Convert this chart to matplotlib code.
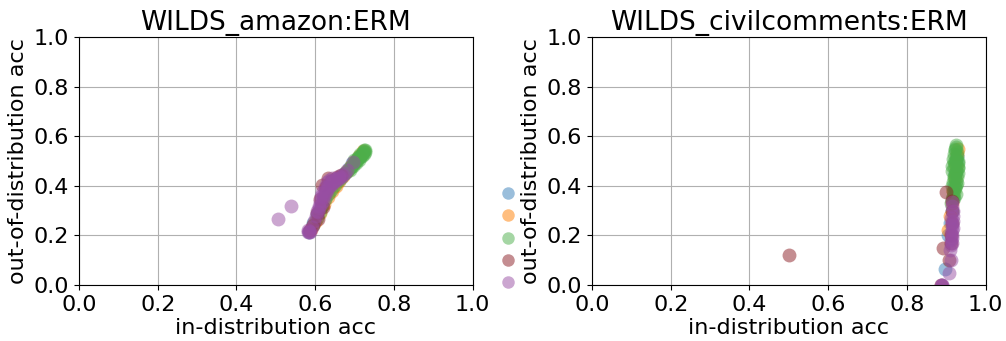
import matplotlib
matplotlib.use("Agg")
import matplotlib.pyplot as plt
from matplotlib.lines import Line2D

# ---------------- data ----------------
titles = ["WILDS_amazon:ERM", "WILDS_civilcomments:ERM"]
xlabel = "in-distribution acc"
ylabel = "out-of-distribution acc"
ticks = [0.0, 0.2, 0.4, 0.6, 0.8, 1.0]

series_colors = ["#377eb8", "#ff7f00", "#4daf4a", "#8b1c24", "#984ea3"]

# amazon (left)
amz_blue_x = [0.585, 0.595, 0.605, 0.615, 0.625, 0.635, 0.645, 0.655, 0.665, 0.675, 0.685, 0.695, 0.705, 0.715]
amz_blue_y = [0.215, 0.250, 0.285, 0.315, 0.345, 0.370, 0.395, 0.415, 0.430, 0.450, 0.470, 0.490, 0.505, 0.520]
amz_orange_x = [0.590, 0.600, 0.612, 0.622, 0.632, 0.642, 0.652, 0.662, 0.672, 0.682, 0.692, 0.702, 0.712, 0.722]
amz_orange_y = [0.225, 0.255, 0.290, 0.325, 0.355, 0.380, 0.400, 0.420, 0.440, 0.460, 0.480, 0.500, 0.520, 0.540]
amz_green_x = [0.595, 0.605, 0.612, 0.618, 0.625, 0.632, 0.640, 0.650, 0.660, 0.668, 0.675, 0.680, 0.685, 0.690,
               0.694, 0.698, 0.702, 0.706, 0.710, 0.713, 0.716, 0.719, 0.722, 0.724, 0.726, 0.727, 0.725, 0.720,
               0.712, 0.704, 0.696, 0.688, 0.700, 0.708, 0.715, 0.723]
amz_green_y = [0.240, 0.270, 0.295, 0.320, 0.345, 0.365, 0.385, 0.405, 0.425, 0.440, 0.450, 0.460, 0.468, 0.476,
               0.484, 0.490, 0.497, 0.505, 0.512, 0.518, 0.524, 0.530, 0.535, 0.540, 0.545, 0.538, 0.530, 0.522,
               0.506, 0.492, 0.478, 0.465, 0.505, 0.515, 0.528, 0.545]
amz_red_x = [0.587, 0.595, 0.604, 0.620, 0.617, 0.633, 0.667, 0.612, 0.640, 0.655, 0.628, 0.608]
amz_red_y = [0.220, 0.242, 0.290, 0.316, 0.403, 0.430, 0.443, 0.345, 0.420, 0.435, 0.395, 0.265]
amz_purple_x = [0.505, 0.538, 0.583, 0.584, 0.585, 0.586, 0.583, 0.592, 0.598, 0.603, 0.607, 0.611, 0.615, 0.619,
                0.623, 0.627, 0.631, 0.635, 0.640, 0.645, 0.650, 0.655, 0.660, 0.665, 0.670, 0.675, 0.680, 0.697,
                0.612, 0.620, 0.626, 0.632, 0.638, 0.644, 0.650, 0.656, 0.662, 0.618, 0.624, 0.630, 0.636, 0.642,
                0.605, 0.610, 0.615]
amz_purple_y = [0.266, 0.320, 0.215, 0.212, 0.218, 0.215, 0.220, 0.235, 0.260, 0.280, 0.295, 0.310, 0.325, 0.340,
                0.355, 0.370, 0.385, 0.395, 0.405, 0.412, 0.418, 0.424, 0.430, 0.437, 0.443, 0.450, 0.464, 0.497,
                0.340, 0.360, 0.380, 0.400, 0.410, 0.420, 0.428, 0.432, 0.438, 0.375, 0.395, 0.415, 0.425, 0.430,
                0.300, 0.320, 0.360]

# civilcomments (right)
civ_blue_x = [0.898, 0.905, 0.910, 0.915, 0.918, 0.920, 0.922, 0.925, 0.928]
civ_blue_y = [0.063, 0.200, 0.250, 0.300, 0.350, 0.400, 0.450, 0.500, 0.520]
civ_orange_x = [0.905, 0.910, 0.915, 0.918, 0.922, 0.925, 0.928, 0.930]
civ_orange_y = [0.220, 0.280, 0.330, 0.380, 0.430, 0.480, 0.530, 0.550]
civ_green_x = [0.912, 0.915, 0.918, 0.920, 0.922, 0.924, 0.926, 0.928, 0.930, 0.914, 0.917, 0.920, 0.923, 0.926,
               0.929, 0.931, 0.916, 0.919, 0.922, 0.925, 0.928, 0.921, 0.923, 0.925, 0.924, 0.922, 0.927, 0.918,
               0.915, 0.920, 0.925, 0.930, 0.917, 0.922, 0.927, 0.919, 0.924, 0.929, 0.921, 0.926]
civ_green_y = [0.330, 0.345, 0.360, 0.375, 0.390, 0.405, 0.420, 0.435, 0.450, 0.400, 0.415, 0.430, 0.445, 0.460,
               0.475, 0.490, 0.460, 0.475, 0.490, 0.505, 0.520, 0.530, 0.545, 0.555, 0.565, 0.550, 0.535, 0.510,
               0.480, 0.495, 0.510, 0.500, 0.380, 0.395, 0.410, 0.440, 0.455, 0.470, 0.350, 0.365]
civ_red_x = [0.500, 0.892, 0.900, 0.907, 0.912, 0.914, 0.916, 0.915, 0.913, 0.888]
civ_red_y = [0.120, 0.150, 0.376, 0.100, 0.200, 0.250, 0.300, 0.340, 0.170, 0.000]
civ_purple_x = [0.888, 0.889, 0.890, 0.907, 0.912, 0.910, 0.912, 0.913, 0.914, 0.915, 0.916, 0.917, 0.918, 0.917,
                0.915, 0.916, 0.914, 0.913, 0.918, 0.916, 0.914, 0.912]
civ_purple_y = [0.000, 0.002, 0.000, 0.047, 0.100, 0.140, 0.160, 0.180, 0.200, 0.220, 0.240, 0.260, 0.280, 0.300,
                0.320, 0.335, 0.250, 0.210, 0.230, 0.190, 0.170, 0.270]

left_series = [(amz_blue_x, amz_blue_y), (amz_orange_x, amz_orange_y), (amz_green_x, amz_green_y),
               (amz_red_x, amz_red_y), (amz_purple_x, amz_purple_y)]
right_series = [(civ_blue_x, civ_blue_y), (civ_orange_x, civ_orange_y), (civ_green_x, civ_green_y),
                (civ_red_x, civ_red_y), (civ_purple_x, civ_purple_y)]

# ---------------- plot ----------------
plt.rcParams['font.size'] = 16
fig = plt.figure(figsize=(10.06, 3.41), dpi=100)
ax1 = fig.add_axes([79 / 1006, 1 - 285 / 341, 393.5 / 1006, 248 / 341])
ax2 = fig.add_axes([592 / 1006, 1 - 285 / 341, 393.5 / 1006, 248 / 341])

for ax, title, series in [(ax1, titles[0], left_series), (ax2, titles[1], right_series)]:
    for (xs, ys), c in zip(series, series_colors):
        ax.scatter(xs, ys, s=100, color=c, alpha=0.5, linewidths=0)
    ax.set_xlim(0, 1)
    ax.set_ylim(0, 1)
    ax.set_xticks(ticks)
    ax.set_yticks(ticks)
    ax.grid(True)
    ax.set_axisbelow(True)
    ax.set_title(title, fontsize=19, pad=5)
    ax.set_xlabel(xlabel, fontsize=16, labelpad=2)
    ax.set_ylabel(ylabel, fontsize=16, labelpad=4)

handles = [Line2D([], [], linestyle='none', marker='o', markersize=9, markeredgewidth=0,
                  color=c, alpha=0.5) for c in series_colors]
fig.legend(handles, [''] * 5, loc='center', bbox_to_anchor=(508 / 1006, 1 - 238.5 / 341),
           frameon=False, fontsize=10, labelspacing=0.6, handlelength=1.0, handletextpad=0.0)

fig.savefig("out.png", dpi=100)
